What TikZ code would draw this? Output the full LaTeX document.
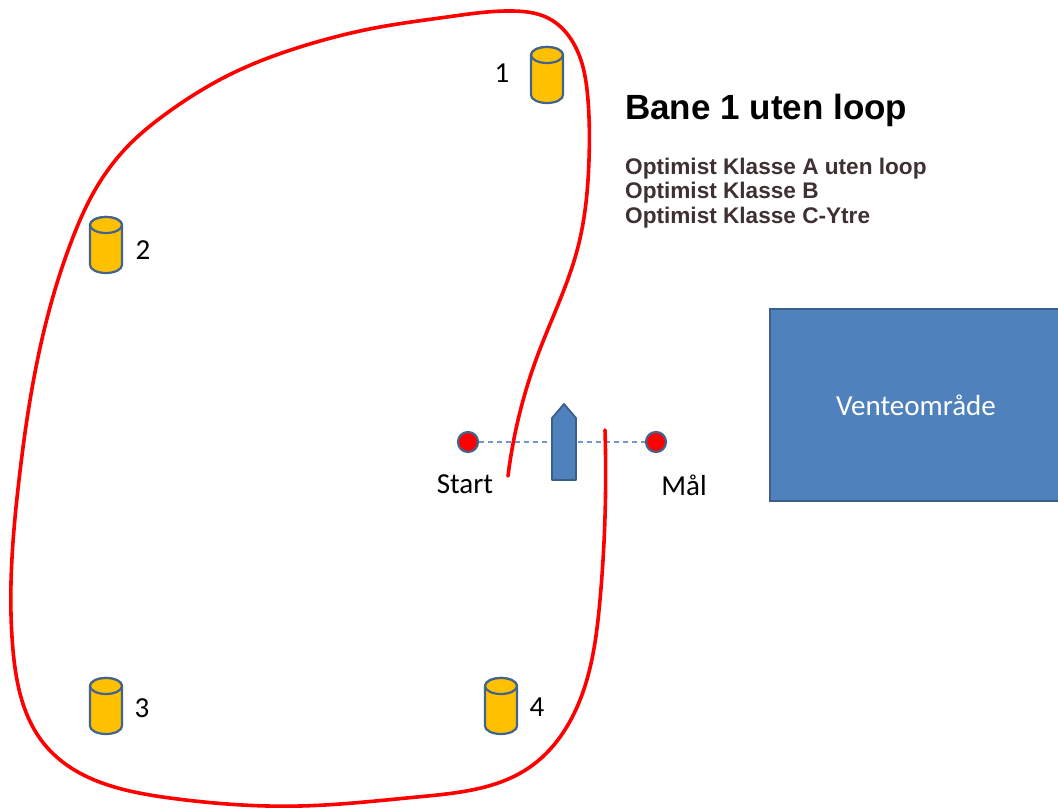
\documentclass[tikz,border=0pt]{standalone}
\usepackage{fontspec}
\usetikzlibrary{hobby}
\newfontfamily\lsans{Liberation Sans}
\newfontfamily\calib{Carlito}
\definecolor{buoyfill}{HTML}{FFC000}
\definecolor{edgeblue}{HTML}{41638C}
\definecolor{boxblue}{HTML}{4F81BD}
\definecolor{boxedge}{HTML}{3A5F8B}
\definecolor{subcol}{HTML}{3F3032}
\definecolor{dashcol}{HTML}{6D98CF}
\tikzset{
  buoyline/.style={fill=buoyfill, draw=edgeblue, line width=2.2pt},
  buoy/.pic={
    \filldraw[buoyline] (-16,-20) -- (-16,20) arc[start angle=180,end angle=0,x radius=16,y radius=8]
      -- (16,-20) arc[start angle=0,end angle=-180,x radius=16,y radius=8] -- cycle;
    \draw[buoyline] (0,-20) ellipse[x radius=16,y radius=8];
  },
  lbl/.style={font=\calib\fontsize{29}{33}\selectfont, inner sep=0pt},
  dotmark/.style={circle, fill=red, draw=edgeblue, line width=2.2pt, minimum size=20pt, inner sep=0pt},
  dashline/.style={draw=dashcol, line width=1.3pt, dash pattern=on 5pt off 4pt},
  boatshape/.style={fill=boxblue, draw=boxedge, line width=1.8pt, line join=round},
  course/.style={draw=red, line width=3.6pt, line cap=round},
  waitbox/.style={rectangle, fill=boxblue, draw=boxedge, line width=2pt, text=white,
    font=\calib\fontsize{29}{33}\selectfont, minimum width=292pt, minimum height=192pt, inner sep=0pt},
  titletext/.style={font=\lsans\bfseries\fontsize{35}{39}\selectfont, inner sep=0pt, anchor=base west},
  subtext/.style={font=\lsans\bfseries\fontsize{22.6}{24}\selectfont, text=subcol, inner sep=0pt, anchor=base west},
}
\begin{document}
\begin{tikzpicture}[x=1pt,y=-1pt]
\useasboundingbox (0,0) rectangle (1058,807);
% waiting area
\node[waitbox] (vo) at (916,405) {Venteområde};
% title
\node[titletext] (title) at (625,119) {Bane 1 uten loop};
\node[subtext] (sub1) at (625,174) {Optimist Klasse A uten loop};
\node[subtext] (sub2) at (625,198) {Optimist Klasse B};
\node[subtext] (sub3) at (625,223) {Optimist Klasse C-Ytre};
% buoys
\pic (b1) at (547,75) {buoy};
\pic (b2) at (106,245) {buoy};
\pic (b3) at (106,706) {buoy};
\pic (b4) at (501,706) {buoy};
\node[lbl] (l1) at (502,73) {1};
\node[lbl] (l2) at (143,250) {2};
\node[lbl] (l3) at (142,708) {3};
\node[lbl] (l4) at (537,707) {4};
% start / finish line
\node[dotmark] (start) at (468,442) {};
\node[dotmark] (maal) at (656,442) {};
\draw[dashline] (start) -- (maal);
\node[lbl] (startlbl) at (465,484) {Start};
\node[lbl] (maallbl) at (684,485) {Mål};
% committee boat
\filldraw[boatshape] (552,480) -- (552,418) -- (564,404) -- (576,418) -- (576,480) -- cycle;
% course
\draw[course, use Hobby shortcut] (508,476) .. (537,357) .. (578,247) .. (589,160)
 .. (588,100) .. (577,50) .. (548,18) .. (513,11) .. (447,17) .. (380,27) .. (300,47)
 .. (233,73) .. (167,113) .. (127,147) .. (95,190) .. (70,245) .. (52,300)
 .. (19,480) .. (13,650) .. (45,745) .. (170,798) .. (300,806) .. (417,797) .. (530,767)
 .. (580,700) .. (600,600) .. (605,430);
\end{tikzpicture}
\end{document}
